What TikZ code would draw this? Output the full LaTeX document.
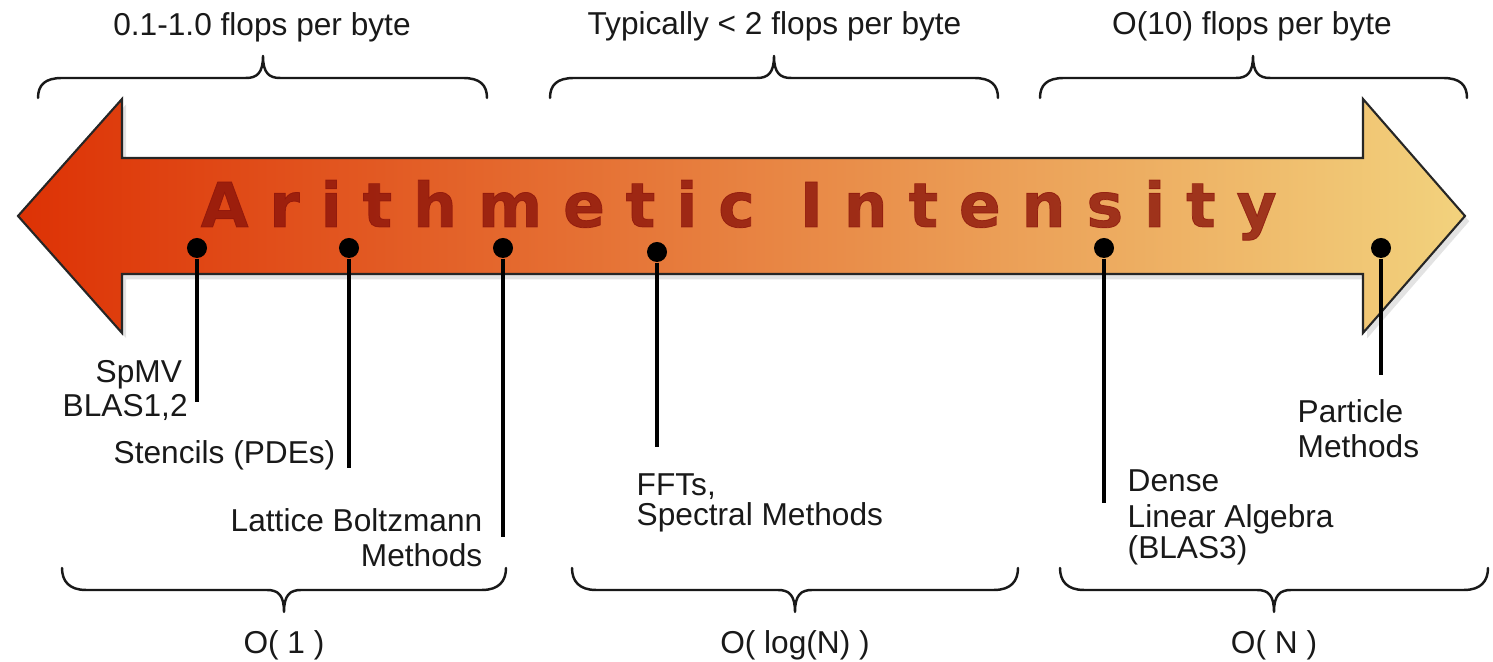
\documentclass[tikz,border=0pt]{standalone}
\usepackage{fontspec}
\setmainfont{Liberation Sans}
\newfontfamily\bigfont{DejaVu Sans}[BoldFeatures={FakeBold=1.2}]
\usetikzlibrary{shadows}
\definecolor{arrL}{RGB}{221,50,5}
\definecolor{arrM}{RGB}{228,112,58}
\definecolor{arrR}{RGB}{242,210,125}
\definecolor{bigtxt}{RGB}{140,20,10}
\definecolor{ink}{RGB}{25,25,25}
\newcommand\lsp{\kern0.2085cm\relax}
\tikzset{
  lbl/.style={font=\fontsize{9}{10}\selectfont, text=ink, inner sep=0pt},
  brc/.style={draw=ink, line width=0.7pt, line cap=round, line join=round},
  pin/.style={draw=black, line width=0.9pt},
  dotn/.style={circle, fill=black, inner sep=0pt, minimum size=0.2cm},
  arrowbody/.style={draw=black!85, line width=0.6pt, line join=miter,
    left color=arrL, middle color=arrM, right color=arrR,
    drop shadow={shadow xshift=1.2pt, shadow yshift=-1.5pt, opacity=0.22}}
}
\newcommand\upbrace[3]{%
  \draw[brc] (#1,98) .. controls (#1,85) and (#1+7,78) .. (#1+24,78)
    -- (#2-17,78) .. controls (#2-6,78) and (#2,73) .. (#2,56)
    .. controls (#2,73) and (#2+6,78) .. (#2+17,78)
    -- (#3-24,78) .. controls (#3-7,78) and (#3,85) .. (#3,98);}
\newcommand\downbrace[3]{%
  \draw[brc] (#1,568) .. controls (#1,581) and (#1+7,590) .. (#1+24,590)
    -- (#2-17,590) .. controls (#2-6,590) and (#2,595) .. (#2,612)
    .. controls (#2,595) and (#2+6,590) .. (#2+17,590)
    -- (#3-24,590) .. controls (#3-7,590) and (#3,581) .. (#3,568);}
\begin{document}
\begin{tikzpicture}[x=0.01cm, y=-0.01cm]
\useasboundingbox (0,0) rectangle (1493,662);
% arrow
\path[arrowbody] (18,216) -- (122,99) -- (122,158) -- (1363,158) -- (1363,99)
  -- (1465,216) -- (1363,333) -- (1363,274) -- (122,274) -- (122,333) -- cycle;
\node[anchor=base west, inner sep=0pt, font=\bigfont\bfseries\fontsize{17.56}{20}\selectfont,
  text=bigtxt, text opacity=0.8] (title) at (200,227)
  {A\lsp r\lsp i\lsp t\lsp h\lsp m\lsp e\lsp t\lsp i\lsp c\kern0.235cm\ I\lsp n\lsp t\lsp e\lsp n\lsp s\lsp i\lsp t\lsp y};
% top braces and labels
\upbrace{38}{263}{487}
\upbrace{550}{774}{998}
\upbrace{1040}{1253}{1467}
\node[lbl, anchor=base] (t1) at (262,36) {0.1-1.0 flops per byte};
\node[lbl, anchor=base] (t2) at (774.5,35) {Typically < 2 flops per byte};
\node[lbl, anchor=base] (t3) at (1252,35) {O(10) flops per byte};
% bottom braces and labels
\downbrace{62}{284}{506}
\downbrace{572}{795}{1018}
\downbrace{1060}{1274}{1488}
\node[lbl, anchor=base] (b1) at (284,654) {O( 1 )};
\node[lbl, anchor=base] (b2) at (795,654) {O( log(N) )};
\node[lbl, anchor=base] (b3) at (1274,654) {O( N )};
% dots and pins
\node[dotn] (d1) at (197,248) {};
\node[dotn] (d2) at (349,248) {};
\node[dotn] (d3) at (503,248) {};
\node[dotn] (d4) at (657,252) {};
\node[dotn] (d5) at (1104,248) {};
\node[dotn] (d6) at (1381,248) {};
\coordinate (e1) at (197,402);
\coordinate (e2) at (349,468);
\coordinate (e3) at (503,537);
\coordinate (e4) at (657,447);
\coordinate (e5) at (1104,503);
\coordinate (e6) at (1381,375);
\draw[pin] (d1) -- (e1);
\draw[pin] (d2) -- (e2);
\draw[pin] (d3) -- (e3);
\draw[pin] (d4) -- (e4);
\draw[pin] (d5) -- (e5);
\draw[pin] (d6) -- (e6);
% method labels
\node[lbl, anchor=base west] (l1a) at (95,383) {SpMV};
\node[lbl, anchor=base west] (l1b) at (62,417) {BLAS1,2};
\node[lbl, anchor=base west] (l2) at (113,464) {Stencils (PDEs)};
\node[lbl, anchor=base east] (l3a) at (483,532) {Lattice Boltzmann};
\node[lbl, anchor=base east] (l3b) at (483,567) {Methods};
\node[lbl, anchor=base west] (l4a) at (636,496) {FFTs,};
\node[lbl, anchor=base west] (l4b) at (636,526) {Spectral Methods};
\node[lbl, anchor=base west] (l5a) at (1127,492) {Dense};
\node[lbl, anchor=base west] (l5b) at (1127,528) {Linear Algebra};
\node[lbl, anchor=base west] (l5c) at (1127,559) {(BLAS3)};
\node[lbl, anchor=base west] (l6a) at (1297,423) {Particle};
\node[lbl, anchor=base west] (l6b) at (1297,458) {Methods};
\end{tikzpicture}
\end{document}
